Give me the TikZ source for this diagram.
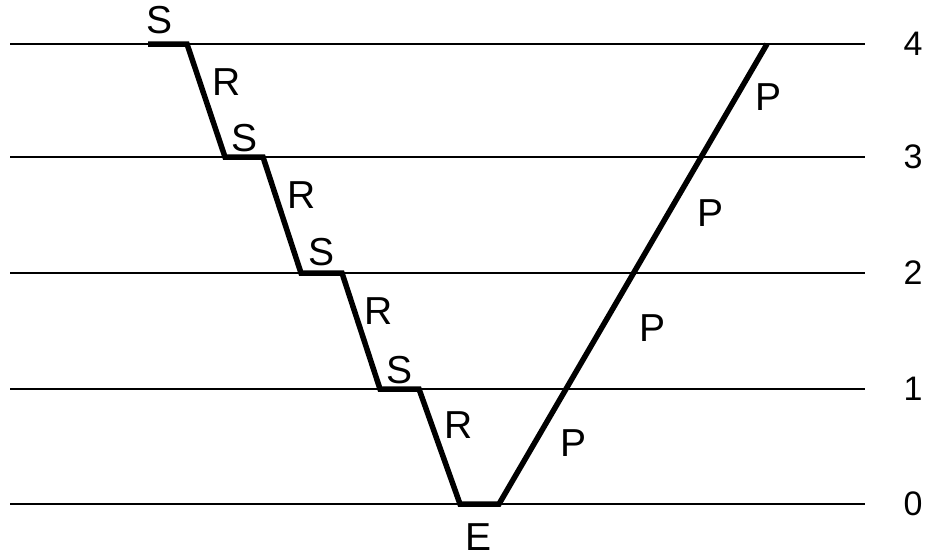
\documentclass[tikz,border=0pt]{standalone}
\usepackage{fontspec}
\setmainfont{Liberation Sans}
\begin{document}
\begin{tikzpicture}[x=1pt,y=-1pt,
  level/.style={line width=2.2pt},
  ray/.style={line width=5.5pt,line join=miter},
  lbl/.style={font=\fontsize{39}{42}\selectfont,inner sep=0pt},
  num/.style={font=\fontsize{34}{38}\selectfont,inner sep=0pt}]
\useasboundingbox (0,0) rectangle (936,557);
% level lines
\foreach \i/\y in {4/44,3/157,2/273,1/389,0/504}{
  \coordinate (L\i a) at (10,\y);
  \coordinate (L\i b) at (865,\y);
  \draw[level] (L\i a) -- (L\i b);
  \node[num] (N\i) at (913,\y) {\i};
}
% ray path vertices
\coordinate (s4) at (148,44);
\coordinate (a4) at (187,44);
\coordinate (b3) at (225,157);
\coordinate (a3) at (263,157);
\coordinate (b2) at (301,273);
\coordinate (a2) at (342,273);
\coordinate (b1) at (380,389);
\coordinate (a1) at (419,389);
\coordinate (b0) at (460,504);
\coordinate (e0) at (499,504);
\coordinate (p4) at (767,44);
\draw[ray] (s4) -- (a4) -- (b3) -- (a3) -- (b2) -- (a2) -- (b1) -- (a1) -- (b0) -- (e0) -- (p4);
% labels
\node[lbl] (S4) at (160,20) {S};
\node[lbl] (R4) at (227,82) {R};
\node[lbl] (S3) at (245,138) {S};
\node[lbl] (R3) at (302,195) {R};
\node[lbl] (S2) at (322,252) {S};
\node[lbl] (R2) at (379,311) {R};
\node[lbl] (S1) at (399,370) {S};
\node[lbl] (R1) at (459,425) {R};
\node[lbl] (E) at (478,537) {E};
\node[lbl] (P4) at (768,97) {P};
\node[lbl] (P3) at (710,213) {P};
\node[lbl] (P2) at (652,328) {P};
\node[lbl] (P1) at (573,443) {P};
\end{tikzpicture}
\end{document}
